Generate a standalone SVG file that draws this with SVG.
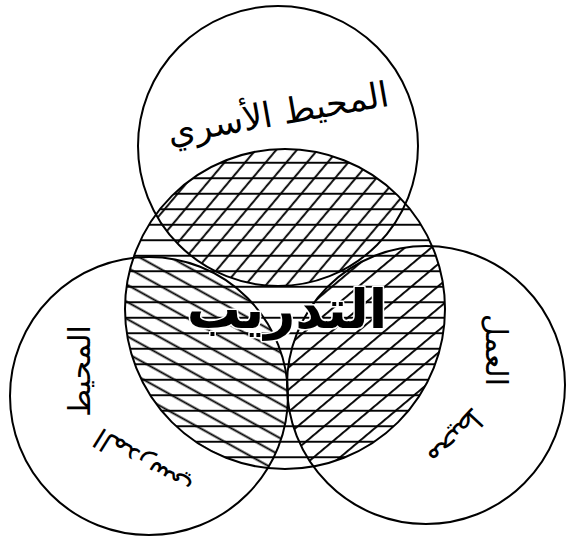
<svg xmlns="http://www.w3.org/2000/svg" width="566" height="540" viewBox="0 0 566 540">
<style>
.ring{fill:none;stroke:#000;stroke-width:2}
.lbl{font-family:'DejaVu Sans',sans-serif;fill:#000;text-anchor:middle}
.core{font-family:'DejaVu Sans',sans-serif;font-weight:bold;fill:#000;text-anchor:middle;stroke:#fff;stroke-width:3;paint-order:stroke;stroke-linejoin:round}
</style>
<defs>
<pattern id="pH" patternUnits="userSpaceOnUse" width="20" height="15.5"><rect x="0" y="6.8" width="20" height="1.9" fill="#000"/></pattern>
<pattern id="pT" patternUnits="userSpaceOnUse" width="20" height="15.8" patternTransform="rotate(-50)"><rect x="0" y="6.8" width="20" height="1.9" fill="#000"/></pattern>
<pattern id="pL" patternUnits="userSpaceOnUse" width="20" height="15" patternTransform="rotate(29)"><rect x="0" y="6.5" width="20" height="1.9" fill="#000"/></pattern>
<pattern id="pR" patternUnits="userSpaceOnUse" width="20" height="17" patternTransform="rotate(-40)"><rect x="0" y="7" width="20" height="1.9" fill="#000"/></pattern>
<clipPath id="cC"><circle cx="285" cy="309" r="160"/></clipPath>
<clipPath id="cT"><circle cx="278" cy="146" r="140"/></clipPath>
<clipPath id="cL"><circle cx="149" cy="396" r="139"/></clipPath>
<clipPath id="cR"><circle cx="426" cy="385" r="139"/></clipPath>
</defs>
<rect width="566" height="540" fill="#fff"/>
<g id="hatching" clip-path="url(#cC)">
<rect x="120" y="145" width="330" height="330" fill="url(#pH)"/>
<rect x="120" y="145" width="330" height="330" fill="url(#pT)" clip-path="url(#cT)"/>
<rect x="120" y="145" width="330" height="330" fill="url(#pL)" clip-path="url(#cL)"/>
<rect x="120" y="145" width="330" height="330" fill="url(#pR)" clip-path="url(#cR)"/>
</g>
<g id="family">
<circle class="ring" cx="278" cy="146" r="140"/>
<text class="lbl" font-size="35" transform="translate(280,125) rotate(-10)">المحيط الأسري</text>
</g>
<g id="school">
<circle class="ring" cx="149" cy="396" r="139"/>
<text class="lbl" font-size="30" transform="translate(80,371) rotate(-90)" y="10">المحيط</text>
<text class="lbl" font-size="28" transform="translate(142,464) rotate(-148)" y="10">المدرسي</text>
</g>
<g id="work">
<circle class="ring" cx="426" cy="385" r="139"/>
<text class="lbl" font-size="30" transform="translate(496,350) rotate(90)" y="10">العمل</text>
<text class="lbl" font-size="28" transform="translate(456,437) rotate(133)" y="9">محيط</text>
</g>
<g id="training">
<circle class="ring" cx="285" cy="309" r="160"/>
<text class="core" font-size="54" x="287" y="328">التدريب</text>
</g>
</svg>
